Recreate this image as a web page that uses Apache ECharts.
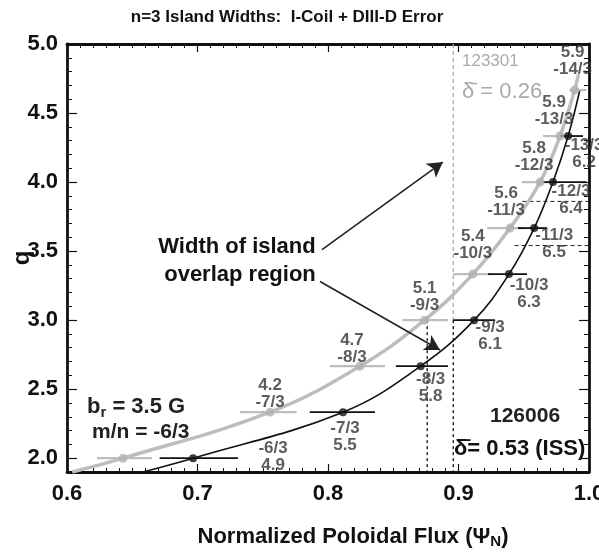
<!DOCTYPE html>
<html><head><meta charset="utf-8">
<script src="https://cdn.jsdelivr.net/npm/echarts@6/dist/echarts.min.js"></script>
<style>html,body{margin:0;padding:0;background:#fff}#c{width:599px;height:552px}</style>
</head><body><div id="c"></div>
<script>
// ---- data ----
var qValues = [6/3, 7/3, 8/3, 9/3, 10/3, 11/3, 12/3, 13/3, 14/3];
var mnLabels = ['-6/3','-7/3','-8/3','-9/3','-10/3','-11/3','-12/3','-13/3','-14/3'];
// shot 123301 (gray)
var grayPsi   = [0.643, 0.7556, 0.8245, 0.874, 0.911, 0.9395, 0.9625, 0.9778, 0.989];
var grayLo    = [0.623, 0.7326, 0.8015, 0.857, 0.896, 0.922, 0.9487, 0.9648, 0.985];
var grayHi    = [0.665, 0.776, 0.8437, 0.892, 0.926, 0.951, 0.974, 0.983, 0.998];
var grayWidthCm = ['', '4.2', '4.7', '5.1', '5.4', '5.6', '5.8', '5.9', '5.9'];
var grayCurvePsi = [0.604, 0.643, 0.7556, 0.8245, 0.874, 0.911, 0.9395, 0.9625, 0.9778, 0.989, 0.992];
var grayCurveQ   = [1.9, 2.0, 2.3333, 2.6667, 3.0, 3.3333, 3.6667, 4.0, 4.3333, 4.6667, 4.78];
// shot 126006 (black)
var blackQ     = [6/3, 7/3, 8/3, 9/3, 10/3, 11/3, 12/3, 13/3];
var blackPsi   = [0.6966, 0.8115, 0.871, 0.912, 0.9387, 0.958, 0.9724, 0.984];
var blackLo    = [0.671, 0.786, 0.852, 0.896, 0.9226, 0.9456, 0.965, 0.978];
var blackHi    = [0.731, 0.836, 0.892, 0.928, 0.9525, 0.968, 0.998, 0.9954];
var blackWidthCm = ['4.9', '5.5', '5.8', '6.1', '6.3', '6.5', '6.4', '6.2'];
var blackCurvePsi = [0.658, 0.6966, 0.8115, 0.871, 0.912, 0.9387, 0.958, 0.9724, 0.984, 0.993];
var blackCurveQ   = [1.9, 2.0, 2.3333, 2.6667, 3.0, 3.3333, 3.6667, 4.0, 4.3333, 4.6667];
// overlap-region boundaries
var grayEdgePsi = 0.896;
var blackEdgePsi = [0.876, 0.896];
var edgeTopQ = 3.0;
var rightDashQ = [3.86, 3.54];
var rightDashStart = [0.949, 0.943];
// arrows [psi, q] start -> end
var arrowFrom = [[0.7954, 3.51], [0.7939, 3.28]];
var arrowTo   = [[0.888, 4.145], [0.8858, 2.784]];
// axis ticks
var xTicks = [0.6, 0.7, 0.8, 0.9, 1.0];
var yTicks = [2.0, 2.5, 3.0, 3.5, 4.0, 4.5, 5.0];

// ---- layout (not data) ----
var FONT = "'Liberation Sans', Arial, sans-serif";
var grayLabelOffsets  = [[0,0],[0,8],[-8,9],[0,3],[0,-3],[-4,0],[-6,1],[-6,1],[-2,-3]];
var blackLabelOffsets = [[80,-27],[2,-1],[10,-4],[16,-10],[20,-6],[20,-10],[18,-8],[16,-8]];

function pairs(xs, ys){ return xs.map(function(x,i){ return [x, ys[i]]; }); }

var labelStyle = {fontFamily: FONT, fontWeight: 'bold', fontSize: 17, color: '#333', lineHeight: 17};

var grayPts = grayPsi.map(function(x,i){
  return {value:[x,qValues[i]], label:{show: grayWidthCm[i] !== '', position:'top', offset: grayLabelOffsets[i],
    formatter: grayWidthCm[i] + '\n' + mnLabels[i]}};
});
var blackPts = blackPsi.map(function(x,i){
  return {value:[x,blackQ[i]], label:{show:true, position:'bottom', offset: blackLabelOffsets[i],
    formatter: mnLabels[i] + '\n' + blackWidthCm[i]}};
});

function barSeries(lo, hi, qs, color, width){
  return {
    type:'custom', z:3,
    data: lo.map(function(l,i){ return [l, hi[i], qs[i]]; }),
    renderItem: function(params, api){
      var a = api.coord([api.value(0), api.value(2)]);
      var b = api.coord([api.value(1), api.value(2)]);
      return {type:'line', shape:{x1:a[0], y1:a[1], x2:b[0], y2:b[1]}, style:{stroke:color, lineWidth:width}};
    }
  };
}
function vline(x, q0, q1, color, dash){
  return {type:'line', symbol:'none', silent:true, z:1, data:[[x,q0],[x,q1]], lineStyle:{color:color, width:1.3, type:dash}};
}

var chart = echarts.init(document.getElementById('c'), null, {renderer:'canvas'});
var axisLabelFont = {fontFamily: FONT, fontWeight:'bold', fontSize: 22, color:'#111'};

var series = [
  vline(grayEdgePsi, 5.0, edgeTopQ, '#aaa', [4,3]),
  vline(blackEdgePsi[0], edgeTopQ, 1.9, '#111', [3,3]),
  vline(blackEdgePsi[1], edgeTopQ, 1.9, '#111', [3,3])
];
rightDashQ.forEach(function(q,i){
  series.push({type:'line', symbol:'none', silent:true, z:1, data:[[rightDashStart[i],q],[1.0,q]], lineStyle:{color:'#222', width:1, type:[4,3]}});
});
series = series.concat([
  {type:'line', smooth:0.4, symbol:'none', z:2, data:pairs(grayCurvePsi, grayCurveQ), lineStyle:{color:'#bdbdbd', width:3.5}},
  {type:'line', smooth:0.4, symbol:'none', z:2, data:pairs(blackCurvePsi, blackCurveQ), lineStyle:{color:'#111', width:1.6}},
  barSeries(grayLo, grayHi, qValues, '#bdbdbd', 2.2),
  barSeries(blackLo, blackHi, blackQ, '#111', 1.8),
  {type:'scatter', symbolSize:9, z:4, data:grayPts, itemStyle:{color:'#b0b0b0'}, label:labelStyle},
  {type:'scatter', symbolSize:8, z:4, data:blackPts, itemStyle:{color:'#111'}, label:labelStyle},
  {type:'line', data:[], markLine:{silent:true, symbol:['none','arrow'], symbolSize:[13,15], label:{show:false},
    lineStyle:{color:'#222', width:1.6, type:'solid'},
    data: arrowFrom.map(function(f,i){ return [{coord:f},{coord:arrowTo[i]}]; })}}
]);

chart.setOption({
  animation:false,
  grid:{left:67, right:10, top:44, bottom:80, outerBoundsMode:'none', containLabel:false},
  xAxis:[
    {type:'value', min:0.6, max:1.0, interval:0.1, position:'bottom',
     axisLine:{show:true, onZero:false, lineStyle:{color:'#111', width:2.8}},
     axisTick:{inside:true, length:8, lineStyle:{color:'#111', width:1.2}},
     minorTick:{show:true, splitNumber:10, length:4, lineStyle:{color:'#111', width:1}},
     axisLabel:Object.assign({margin:11, formatter:function(v){return v.toFixed(1);}}, axisLabelFont),
     splitLine:{show:false},
     name:'Normalized Poloidal Flux (Ψ{sub|N})', nameLocation:'middle', nameGap:52,
     nameTextStyle:{fontFamily:FONT, fontWeight:'bold', fontSize:22, color:'#111', padding:[0,0,0,50],
       rich:{sub:{fontFamily:FONT, fontWeight:'bold', fontSize:15, color:'#111', verticalAlign:'bottom', padding:[10,0,0,0]}}}},
    {type:'value', min:0.6, max:1.0, interval:0.1, position:'top',
     axisLine:{show:true, onZero:false, lineStyle:{color:'#111', width:2.8}},
     axisTick:{inside:true, length:8, lineStyle:{color:'#111', width:1.2}},
     minorTick:{show:true, splitNumber:10, length:4, lineStyle:{color:'#111', width:1}},
     axisLabel:{show:false}, splitLine:{show:false}}
  ],
  yAxis:[
    {type:'value', min:1.9, max:5.0, position:'left',
     axisLine:{show:true, onZero:false, lineStyle:{color:'#111', width:2.8}},
     axisTick:{inside:true, length:10, customValues:yTicks, lineStyle:{color:'#111', width:1.2}},
     axisLabel:Object.assign({margin:9, customValues:yTicks, formatter:function(v){return v.toFixed(1);}}, axisLabelFont),
     splitLine:{show:false},
     name:'q', nameLocation:'middle', nameGap:45, nameRotate:90, nameMoveOverlap:false,
     nameTextStyle:{fontFamily:FONT, fontWeight:'bold', fontSize:24, color:'#111', verticalAlign:'middle'}},
    {type:'value', min:1.9, max:5.0, position:'right',
     axisLine:{show:true, onZero:false, lineStyle:{color:'#111', width:2.8}},
     axisTick:{inside:true, length:10, customValues:yTicks, lineStyle:{color:'#111', width:1.2}},
     axisLabel:{show:false}, splitLine:{show:false}},
    {type:'value', min:1.9, max:5.0, interval:0.1, position:'left',
     axisLine:{show:false}, axisTick:{inside:true, length:5, lineStyle:{color:'#111', width:1}},
     axisLabel:{show:false}, splitLine:{show:false}},
    {type:'value', min:1.9, max:5.0, interval:0.1, position:'right',
     axisLine:{show:false}, axisTick:{inside:true, length:5, lineStyle:{color:'#111', width:1}},
     axisLabel:{show:false}, splitLine:{show:false}}
  ],
  series: series,
  graphic:[
    {type:'text', style:{x:287, y:17, text:'n=3 Island Widths:  I-Coil + DIII-D Error', align:'center', verticalAlign:'middle',
      fontFamily:FONT, fontWeight:'bold', fontSize:17, fill:'#111'}},
    {type:'text', style:{x:462, y:61, text:'123301', verticalAlign:'middle', fontFamily:FONT, fontSize:17, fill:'#aaa'}},
    {type:'text', style:{x:462, y:92, text:'δ\u0304 = 0.26', verticalAlign:'middle', fontFamily:FONT, fontSize:22, fill:'#aaa'}},
    {type:'text', style:{x:237, y:247, text:'Width of island', align:'center', verticalAlign:'middle', fontFamily:FONT, fontWeight:'bold', fontSize:22, fill:'#111'}},
    {type:'text', style:{x:240, y:275, text:'overlap region', align:'center', verticalAlign:'middle', fontFamily:FONT, fontWeight:'bold', fontSize:22, fill:'#111'}},
    {type:'text', style:{x:87, y:407, text:'b{sub|r} = 3.5 G', verticalAlign:'middle', fontFamily:FONT, fontWeight:'bold', fontSize:22, fill:'#222',
      rich:{sub:{fontFamily:FONT, fontWeight:'bold', fontSize:15, fill:'#222', padding:[12,0,0,0]}}}},
    {type:'text', style:{x:92, y:432, text:'m/n = -6/3', verticalAlign:'middle', fontFamily:FONT, fontWeight:'bold', fontSize:21, fill:'#222'}},
    {type:'text', style:{x:490, y:416, text:'126006', verticalAlign:'middle', fontFamily:FONT, fontWeight:'bold', fontSize:21, fill:'#222'}},
    {type:'text', style:{x:454, y:449, text:'δ\u0304= 0.53 (ISS)', verticalAlign:'middle', fontFamily:FONT, fontWeight:'bold', fontSize:22, fill:'#111'}}
  ]
});
</script></body></html>
